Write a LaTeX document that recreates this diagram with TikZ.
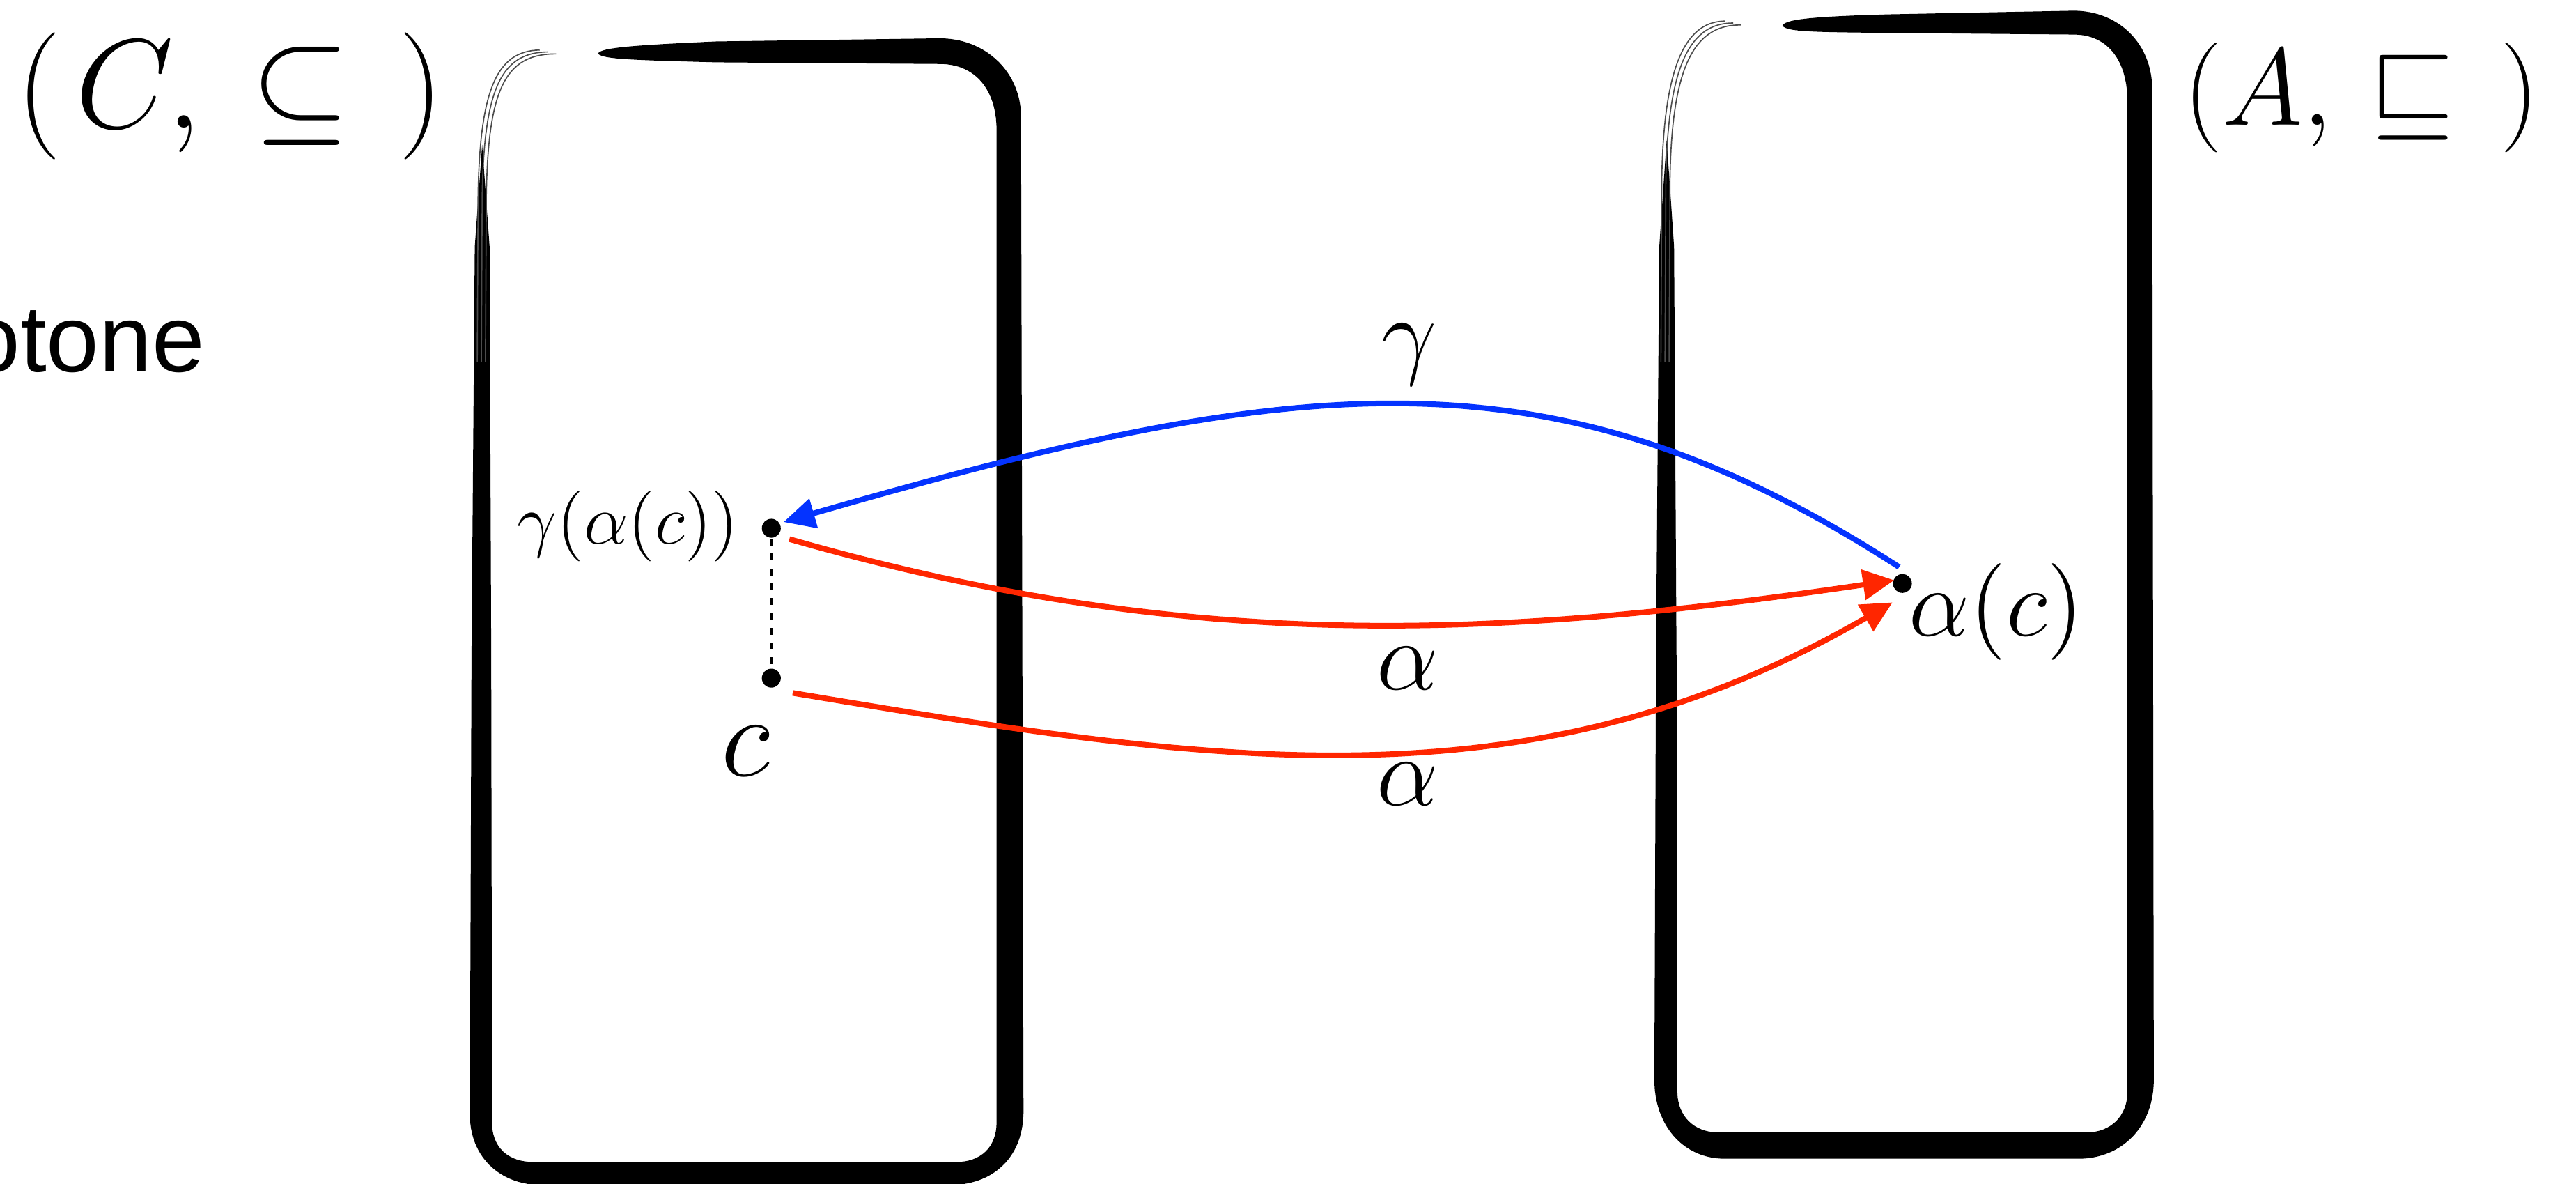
\RequirePackage{fix-cm}
\documentclass[tikz,border=0pt]{standalone}
\usepackage{fontspec}
\usetikzlibrary{arrows.meta,calc}
\newfontfamily\helv{Liberation Sans}
\definecolor{kblue}{RGB}{4,51,255}
\definecolor{kred}{RGB}{255,38,0}
\tikzset{
  boxink/.style={fill=black},
  thinink/.style={draw=black!70,line width=0.2pt},
  dot/.style={circle,fill=black,inner sep=0pt,minimum size=0.115cm},
  dashline/.style={draw=black,line width=0.02cm,dash pattern=on 0.042cm off 0.048cm},
  bluearr/.style={draw=kblue,line width=0.034cm,-{Triangle[length=0.19cm,width=0.18cm]}},
  redarr/.style={draw=kred,line width=0.034cm,-{Triangle[length=0.19cm,width=0.18cm]}},
  lbl/.style={inner sep=0pt,outer sep=0pt}
}
\begin{document}
\begin{tikzpicture}[x=0.01cm,y=-0.01cm]
\useasboundingbox (0,0) rectangle (1568,720);
\fill[white] (0,0) rectangle (1568,720);

% ---- left box (C) ----
\fill[boxink] (364,32.5)
  .. controls (366,29) and (385,27.5) .. (436,25.2)
  -- (572,23.3)
  .. controls (600,23.3) and (621.5,44) .. (621.5,71)
  -- (623,676)
  .. controls (623,703) and (606,720) .. (580,721)
  -- (328,721)
  .. controls (303,720) and (286,703) .. (286,678)
  -- (287,400) -- (289,150) -- (293.5,88) -- (298,150) -- (299,400) -- (299.5,683)
  .. controls (299.5,698) and (309,707) .. (325,707)
  -- (582,707)
  .. controls (597,707) and (606.6,698) .. (606.6,683)
  -- (606.6,79)
  .. controls (606.6,55) and (594,38.9) .. (572,38.9)
  -- (436,37.9)
  .. controls (385,36.5) and (366,36) .. cycle;
\foreach \i in {0,1,2}{
  \draw[thinink] ({290.5+2.5*\i},220) -- ({291+2.5*\i},120)
    .. controls ({292+2.5*\i},55) and ({302+2.5*\i},{31+0.8*\i}) .. ({328.5+5*\i},{30.4+1.2*\i});
}

% ---- right box (A) ----
\fill[boxink] (1085,15.5)
  .. controls (1087,11.5) and (1105,10) .. (1150,8.7)
  -- (1262,6.5)
  .. controls (1290,6.5) and (1310,27) .. (1310,54)
  -- (1311,657)
  .. controls (1311,685) and (1292,705) .. (1265,705)
  -- (1050,705)
  .. controls (1024,705) and (1007,684) .. (1007,657)
  -- (1008,400) -- (1010,150) -- (1014.5,85) -- (1019,150) -- (1020.5,400) -- (1021,664)
  .. controls (1021,679) and (1031,689) .. (1046,689)
  -- (1270,689)
  .. controls (1285,689) and (1295,679) .. (1295,664)
  -- (1295,62)
  .. controls (1295,38) and (1284,21) .. (1262,21)
  -- (1150,20)
  .. controls (1105,19.5) and (1087,19.5) .. cycle;
\foreach \i in {0,1,2}{
  \draw[thinink] ({1011+2.5*\i},220) -- ({1011.5+2.5*\i},110)
    .. controls ({1012.5+2.5*\i},45) and ({1024+2.5*\i},{13+0.8*\i}) .. ({1050+5*\i},{12.8+1.2*\i});
}

% ---- titles ----
\node[lbl,anchor=base west,font=\fontsize{22pt}{26pt}\selectfont] (ctuple) at (10,78) {$(\mkern2mu C,\mkern4mu\subseteq\mkern7mu)$};
\node[lbl,anchor=base west,font=\fontsize{19pt}{23pt}\selectfont] (atuple) at (1329,76) {$(A,\mkern3mu\sqsubseteq\mkern7.5mu)$};
\node[lbl,anchor=base west,font=\helv\fontsize{16.4pt}{20pt}\selectfont] (otone) at (-19.7,226.4) {otone};

% ---- points ----
\node[dot] (ga) at (469.5,321.4) {};
\node[dot] (cc) at (469.5,412.6) {};
\node[dot] (ac) at (1158,355) {};

\node[lbl,anchor=base east,font=\fontsize{12.2pt}{15pt}\selectfont] (galabel) at (449.5,331) {$\gamma(\alpha(c))$};
\node[lbl,anchor=base,font=\fontsize{20pt}{24pt}\selectfont] (clabel) at (454,472) {$c$};
\node[lbl,anchor=base west,font=\fontsize{16.7pt}{20pt}\selectfont] (aclabel) at (1162,387) {$\alpha(c)$};

\node[lbl,anchor=base,font=\fontsize{17pt}{20pt}\selectfont] (glabel) at (858,223) {$\gamma$};
\node[lbl,anchor=base,font=\fontsize{17pt}{20pt}\selectfont] (alabelA) at (857,419.5) {$\alpha$};
\node[lbl,anchor=base,font=\fontsize{17pt}{20pt}\selectfont] (alabelB) at (857,490) {$\alpha$};

% ---- connectors ----
\draw[dashline] (ga) -- (cc);
\draw[bluearr] ($(ac)+(-2,-10)$) .. controls (946,209.5) and (794,226) .. ($(ga)+(7.5,-3.8)$);
\draw[redarr] ($(ga)+(11,6.6)$) .. controls (720.8,396.75) and (905.75,389.5) .. ($(ac)+(-5,-2)$);
\draw[redarr] ($(cc)+(13,9)$) .. controls (729,462.6) and (927.1,497) .. ($(ac)+(-6,11.5)$);
\end{tikzpicture}
\end{document}
